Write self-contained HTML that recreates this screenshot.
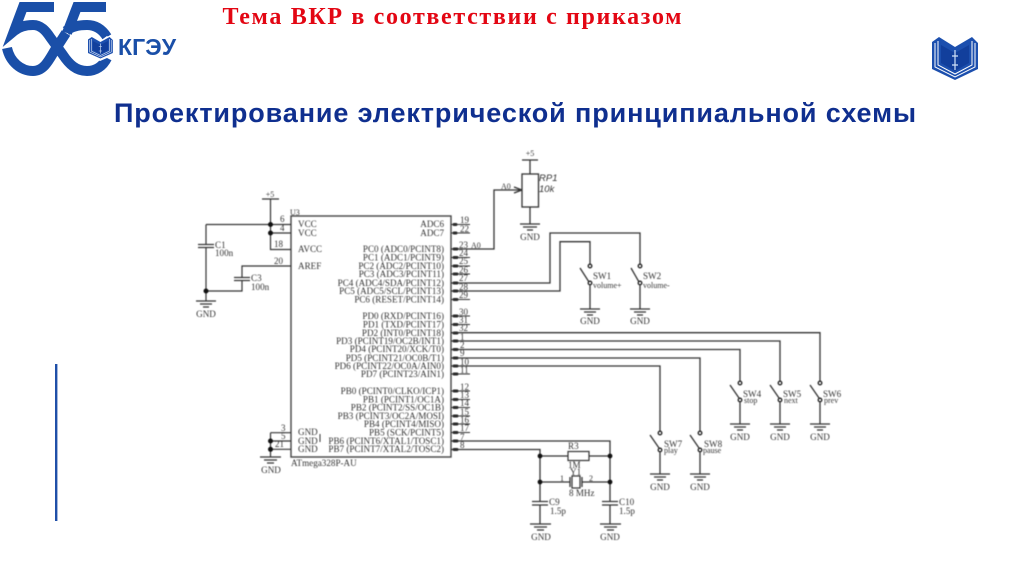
<!DOCTYPE html>
<html><head><meta charset="utf-8">
<style>
html,body{margin:0;padding:0;background:#fff;width:1024px;height:574px;overflow:hidden}
svg{position:absolute;left:0;top:0}
#d{filter:blur(0.5px)}
#d text{font-family:"Liberation Serif",serif;font-size:9.1px;fill:#333}
#d .n{font-size:9px}
#d .s{font-size:8px}
#d .e{text-anchor:end}
#d .m{text-anchor:middle}
#d .i{font-family:"Liberation Sans",sans-serif;font-style:italic;font-size:9.5px}
</style></head><body>
<svg width="1024" height="574" viewBox="0 0 1024 574">
<defs>
<g id="book">
<path d="M932,42 L939,37 L955,47 L972,37 L978,43 V69 L955,80 L932,69Z" fill="#1c4fae"/>
<path d="M935,43 V67 L955,77 L975,67 V43 M938,41 V65 L955,74 L972,65 V41" fill="none" stroke="#fff" stroke-width="1"/>
<path d="M941,45 L955,53 L969,45 V63 L955,71 L941,63Z" fill="#123f9c"/>
<path d="M955,50 V70 M952,56 H958 M952,65 H958" stroke="#cfe0f7" stroke-width="1.2" fill="none"/>
</g>
</defs>
<text x="452" y="24" text-anchor="middle" font-family="Liberation Serif, serif" font-weight="bold" font-size="24" fill="#e30613" textLength="459">Тема ВКР в соответствии с приказом</text>
<text x="515" y="122" text-anchor="middle" font-family="Liberation Sans, sans-serif" font-weight="bold" font-size="27" fill="#0f2f8f" textLength="802">Проектирование электрической принципиальной схемы</text>
<rect x="55" y="364" width="2.4" height="157" fill="#1f4fa8"/>
<g fill="none" stroke="#1a4fa8" stroke-width="10">
<path d="M54,7 H23 L14,31 C20,26 27,25 33,25 C41,25 46,31 50,37 L63,55 C69,64 76,71 87,71 C96,71 103,66 107,58"/>
<path d="M106,7 H77 L67,33 M66,31 C72,26 80,25 87,25 C95,25 102,29 107,37"/>
<path d="M7,48 C10,62 21,71 33,71 C44,71 49,60 55,50 L66,33"/>
</g>
<path d="M87,40 L93,36 L100,41 L107,36 L114,40 V55 L100,61 L87,55Z" fill="#fff"/>
<use href="#book" transform="translate(88,37) scale(.54,.5) translate(-932,-37)"/>
<text x="118" y="55" font-family="Liberation Sans, sans-serif" font-weight="bold" font-size="23" fill="#1a4fa8" textLength="58">КГЭУ</text>
<use href="#book"/>
</svg>
<svg id="d" width="1024" height="574" viewBox="0 0 1024 574">
<rect x="291" y="216" width="160" height="241" fill="none" stroke="#444" stroke-width="1.4"/>
<!-- left wires -->
<path fill="none" stroke="#333" stroke-width="1.2" d="M270.500,199 V249.500 H291 M262,199 H279 M206,224.500 H291 M270.500,233 H291 M206,224.500 V244.500 M198,244.500 H214 M198,247.500 H214 M206,247.500 V301 M206,291 H242 V280.500 M234,280.500 H250 M234,277.500 H250 M242,277.500 V266 H291 M196,301 H216 M200,304 H212 M203,307 H209 M270.500,432.700 H291 M270.500,441 H291 M270.500,449.300 H291 M270.500,432.700 V457 M260,457 H281 M264,460 H277 M267,463 H274"/>
<g fill="#111"><circle cx="270.500" cy="224.500" r="2.500"/><circle cx="270.500" cy="233" r="2.500"/><circle cx="206" cy="291" r="2.500"/><circle cx="270.500" cy="441" r="2.500"/><circle cx="270.500" cy="449.300" r="2.500"/></g>
<text x="270" y="197" class="m s">+5</text><text x="290" y="215" class="s">U3</text>
<text x="280" y="222" class="n">6</text><text x="280" y="231" class="n">4</text><text x="274" y="247" class="n">18</text><text x="274" y="264" class="n">20</text>
<text x="215" y="248">C1</text><text x="215" y="256">100n</text><text x="251" y="281">C3</text><text x="251" y="290">100n</text>
<text x="206" y="317" class="m">GND</text><text x="271" y="473" class="m">GND</text>
<text x="281" y="431" class="n">3</text><text x="281" y="439" class="n">5</text><text x="275" y="447" class="n">21</text>
<!-- left labels -->
<text x="298" y="227">VCC</text><text x="298" y="236">VCC</text><text x="298" y="252">AVCC</text><text x="298" y="269">AREF</text>
<text x="298" y="435">GND</text><text x="298" y="444">GND</text><text x="298" y="452">GND</text>
<path d="M320,434 V442" stroke="#333" stroke-width="1"/>
<text x="291" y="466">ATmega328P-AU</text>
<!-- right labels -->
<g>
<text x="444" y="227" class="e">ADC6</text><text x="444" y="236" class="e">ADC7</text>
<text x="444" y="252" class="e">PC0 (ADC0/PCINT8)</text><text x="444" y="260.500" class="e">PC1 (ADC1/PCINT9)</text><text x="444" y="269" class="e">PC2 (ADC2/PCINT10)</text><text x="444" y="277" class="e">PC3 (ADC3/PCINT11)</text><text x="444" y="286" class="e">PC4 (ADC4/SDA/PCINT12)</text><text x="444" y="294" class="e">PC5 (ADC5/SCL/PCINT13)</text><text x="444" y="302.500" class="e">PC6 (RESET/PCINT14)</text>
<text x="444" y="319" class="e">PD0 (RXD/PCINT16)</text><text x="444" y="327.500" class="e">PD1 (TXD/PCINT17)</text><text x="444" y="336" class="e">PD2 (INT0/PCINT18)</text><text x="444" y="344" class="e">PD3 (PCINT19/OC2B/INT1)</text><text x="444" y="352" class="e">PD4 (PCINT20/XCK/T0)</text><text x="444" y="361" class="e">PD5 (PCINT21/OC0B/T1)</text><text x="444" y="369" class="e">PD6 (PCINT22/OC0A/AIN0)</text><text x="444" y="377" class="e">PD7 (PCINT23/AIN1)</text>
<text x="444" y="394" class="e">PB0 (PCINT0/CLKO/ICP1)</text><text x="444" y="402.500" class="e">PB1 (PCINT1/OC1A)</text><text x="444" y="410.500" class="e">PB2 (PCINT2/SS/OC1B)</text><text x="444" y="419" class="e">PB3 (PCINT3/OC2A/MOSI)</text><text x="444" y="427" class="e">PB4 (PCINT4/MISO)</text><text x="444" y="435.500" class="e">PB5 (SCK/PCINT5)</text><text x="444" y="444" class="e">PB6 (PCINT6/XTAL1/TOSC1)</text><text x="444" y="452" class="e">PB7 (PCINT7/XTAL2/TOSC2)</text>
</g>
<!-- right pin stubs -->
<path fill="none" stroke="#222" stroke-width="3" stroke-linecap="round" d="M454,224.500h2M454,233h2M454,249h3M454,257.500h3M454,266h3M454,274h3M454,283h3M454,291h3M454,299.500h3M454,316h3M454,324.500h3M454,333h3M454,341h3M454,349.500h3M454,358h3M454,366h3M454,374h3M454,391h3M454,399.500h3M454,407.500h3M454,416h3M454,424h3M454,432.500h3M454,441h3M454,449.500h3"/>
<path fill="none" stroke="#333" stroke-width="1.1" d="M451,224.500h19M451,233h19M451,257.500h19M451,266h19M451,274h19M451,299.500h19M451,316h19M451,324.500h19M451,374h19M451,391h19M451,399.500h19M451,407.500h19M451,416h19M451,424h19M451,432.500h19"/>
<g>
<text x="460" y="223" class="n">19</text><text x="460" y="232" class="n">22</text><text x="459" y="248" class="n">23</text><text x="459" y="256" class="n">24</text><text x="459" y="264" class="n">25</text><text x="459" y="273" class="n">26</text><text x="459" y="281" class="n">27</text><text x="459" y="290" class="n">28</text><text x="459" y="298" class="n">29</text><text x="459" y="315" class="n">30</text><text x="459" y="323" class="n">31</text><text x="459" y="331" class="n">32</text><text x="460" y="340" class="n">1</text><text x="460" y="348" class="n">2</text><text x="460" y="356" class="n">9</text><text x="460" y="365" class="n">10</text><text x="460" y="373" class="n">11</text><text x="460" y="390" class="n">12</text><text x="460" y="398" class="n">13</text><text x="460" y="406" class="n">14</text><text x="460" y="415" class="n">15</text><text x="460" y="423" class="n">16</text><text x="460" y="431" class="n">17</text><text x="460" y="440" class="n">7</text><text x="460" y="448" class="n">8</text>
</g>
<!-- signal wires -->
<path fill="none" stroke="#333" stroke-width="1.3" d="M451,249 H494 V190 H522 M514,187 L522,190 L514,193 M530,160 V174 M530,207 V224 M520,224 H540 M523,227 H537 M527,230 H533 M522,160 H538
M451,283 H550 V233 H640 V263.500 M451,291 H560 V241.700 H590 V263.500
M590,285.500 V309 M640,285.500 V309 M580,268 L589,282 M631,268 L639,282 M580,309 H600 M630,309 H650 M584,312 H596 M634,312 H646 M587,315 H593 M637,315 H643
M451,332.700 H820 V380.500 M451,341 H780 V380.500 M451,349.500 H740 V380.500 M451,358 H700 V430.500 M451,366 H660 V430.500
M740,402.500 V424 M780,402.500 V424 M820,402.500 V424 M660,452.500 V474 M700,452.500 V474
M730,385 L739,398 M770,385 L779,398 M810,385 L819,398 M650,435 L659,448 M690,435 L699,448
M730,424 H750 M770,424 H790 M810,424 H830 M650,474 H670 M690,474 H710 M734,427 H746 M774,427 H786 M814,427 H826 M654,477 H666 M694,477 H706 M737,430 H743 M777,430 H783 M817,430 H823 M657,480 H663 M697,480 H703
M451,441 H610 V501.500 M451,449.500 H540 V501.500 M540,456 H568 M589,456 H610 M540,482 H570 M582,482 H610
M532,501.500 H548 M532,505 H548 M602,501.500 H618 M602,505 H618 M540,505 V524 M610,505 V524 M530,524 H551 M600,524 H621 M534,527 H547 M604,527 H617 M537,530 H544 M607,530 H614
M570,477 V487 M582,477 V487"/>
<rect x="522" y="174" width="16.500" height="33" fill="#fff" stroke="#333" stroke-width="1.300"/>
<path d="M514,190 H522" stroke="#333" stroke-width="1"/>
<rect x="568" y="451.500" width="21" height="9" fill="#fff" stroke="#333" stroke-width="1.200"/>
<rect x="572" y="476" width="8" height="12" fill="#fff" stroke="#333" stroke-width="1.200"/>
<g fill="#fff" stroke="#222" stroke-width="1.300">
<circle cx="590" cy="266" r="1.800"/><circle cx="590" cy="283" r="1.800"/><circle cx="640" cy="266" r="1.800"/><circle cx="640" cy="283" r="1.800"/>
<circle cx="740" cy="383" r="1.800"/><circle cx="740" cy="400" r="1.800"/><circle cx="780" cy="383" r="1.800"/><circle cx="780" cy="400" r="1.800"/><circle cx="820" cy="383" r="1.800"/><circle cx="820" cy="400" r="1.800"/>
<circle cx="660" cy="433" r="1.800"/><circle cx="660" cy="450" r="1.800"/><circle cx="700" cy="433" r="1.800"/><circle cx="700" cy="450" r="1.800"/>
</g>
<g fill="#111"><circle cx="540" cy="456" r="2.400"/><circle cx="610" cy="456" r="2.400"/><circle cx="540" cy="482" r="2.400"/><circle cx="610" cy="482" r="2.400"/></g>
<!-- right labels -->
<text x="530" y="156" class="m s">+5</text><text x="539" y="181" class="i">RP1</text><text x="539" y="192" class="i">10k</text>
<text x="501" y="189" class="s">A0</text><text x="471" y="248" class="s">A0</text><text x="530" y="240" class="m">GND</text>
<text x="593" y="279">SW1</text><text x="593" y="288" class="s">volume+</text><text x="643" y="279">SW2</text><text x="643" y="288" class="s">volume-</text>
<text x="590" y="324" class="m">GND</text><text x="640" y="324" class="m">GND</text>
<text x="743" y="397">SW4</text><text x="744" y="403" class="s">stop</text><text x="783" y="397">SW5</text><text x="784" y="403" class="s">next</text><text x="823" y="397">SW6</text><text x="824" y="403" class="s">prev</text>
<text x="664" y="447">SW7</text><text x="664" y="453" class="s">play</text><text x="704" y="447">SW8</text><text x="703" y="453" class="s">pause</text>
<text x="740" y="440" class="m">GND</text><text x="780" y="440" class="m">GND</text><text x="820" y="440" class="m">GND</text><text x="660" y="490" class="m">GND</text><text x="700" y="490" class="m">GND</text>
<text x="568" y="449">R3</text><text x="568" y="468">1M</text><text x="570" y="475">Y1</text><text x="560" y="481" class="s">1</text><text x="589" y="481" class="s">2</text><text x="569" y="496">8 MHz</text>
<text x="549" y="505">C9</text><text x="550" y="514">1.5p</text><text x="619" y="505">C10</text><text x="619" y="514">1.5p</text>
<text x="541" y="540" class="m">GND</text><text x="610" y="540" class="m">GND</text>
</svg>
</body></html>
